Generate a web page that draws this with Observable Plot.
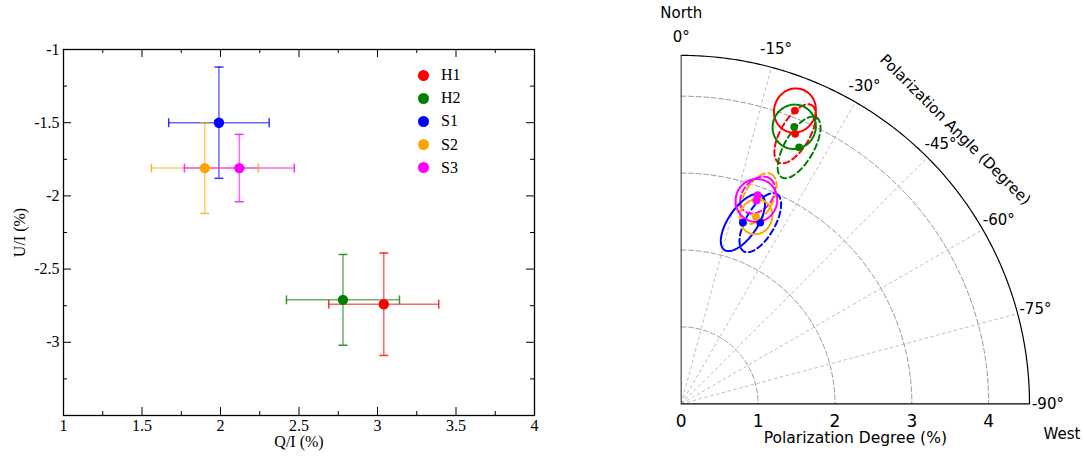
<!DOCTYPE html>
<html>
<head>
<meta charset="utf-8">
<script src="https://cdn.jsdelivr.net/npm/d3@7"></script>
<script src="https://cdn.jsdelivr.net/npm/@observablehq/plot@0.6"></script>
<style>
  html, body { margin: 0; padding: 0; background: #fff; }
  body { width: 1084px; height: 460px; position: relative; overflow: hidden; }
  #left { position: absolute; left: 0; top: 0; }
  #right { position: absolute; left: 560px; top: 0; }
  #legend { position: absolute; left: 0; top: 0; }
  .lg { position: absolute; height: 20px; display: flex; align-items: center;
        font: 16px "Liberation Serif", "Times New Roman", serif; color: #000; }
  .lg span { display: inline-block; width: 11px; height: 11px; border-radius: 50%; margin-right: 12px; }
</style>
</head>
<body>
<div id="left"></div>
<div id="right"></div>
<div id="legend"></div>
<script>
// ---------------- data: left panel (Stokes Q/I vs U/I) ----------------
const series   = ["H1", "H2", "S1", "S2", "S3"];
const colors   = ["#ff0000", "#008000", "#0000ff", "#ffa500", "#ff00ff"];
const qValues  = [3.04, 2.78, 1.99, 1.90, 2.12];
const qErrors  = [0.35, 0.36, 0.32, 0.34, 0.35];
const uValues  = [-2.74, -2.71, -1.50, -1.81, -1.81];
const uErrors  = [0.35, 0.31, 0.38, 0.31, 0.23];
const xTicks      = [1, 1.5, 2, 2.5, 3, 3.5, 4];
const xMinorTicks = [1.25, 1.75, 2.25, 2.75, 3.25, 3.75];
const yTicks      = [-1, -1.5, -2, -2.5, -3, -3.5];
const yLabelTicks = [-1, -1.5, -2, -2.5, -3];
const yMinorTicks = [-1.25, -1.75, -2.25, -2.75, -3.25];

// ---------------- data: right panel (polarization degree / angle) ----------------
const solidDegree    = [4.09, 3.89, 2.49, 2.62, 2.82];
const solidAngle     = [-21.2, -22.2, -18.8, -21.8, -20.3];
const solidSemiMajor = [0.29, 0.29, 0.43, 0.23, 0.28];
const solidSemiMinor = [0.27, 0.28, 0.19, 0.21, 0.27];
const solidTilt      = [-21, -22, -34, -22, -20];
const dashedDegree    = [3.81, 3.67, 2.57, 2.85, 2.89];
const dashedAngle     = [-22.9, -24.7, -23.6, -20.6, -20.1];
const dashedSemiMajor = [0.43, 0.45, 0.43, 0.36, 0.27];
const dashedSemiMinor = [0.19, 0.19, 0.19, 0.19, 0.19];
const dashedTilt      = [-30, -30, -30, -28, -40];
const degreeTicks = [0, 1, 2, 3, 4];
const gridRadii   = [1, 2, 3, 4];
const angleTicks  = [0, -15, -30, -45, -60, -75, -90];
const gridAngles  = [-15, -30, -45, -60, -75];
const degreeMax   = 4.53;

// ---------------- left panel ----------------
const rows = series.map((s, i) => ({
  name: s, color: colors[i], q: qValues[i], qe: qErrors[i], u: uValues[i], ue: uErrors[i]
}));
const LW = 560, LH = 460, LML = 63, LMR = 26, LMT = 49, LMB = 45;
const FH = LH - LMT - LMB, FW = LW - LML - LMR;
const hCap = { draw(c, size) { const w = Math.sqrt(size / Math.PI); c.moveTo(-w, 0); c.lineTo(w, 0); } };
const vCap = { draw(c, size) { const w = Math.sqrt(size / Math.PI); c.moveTo(0, -w); c.lineTo(0, w); } };
const serif = "'Liberation Serif', 'Times New Roman', serif";

const leftPlot = Plot.plot({
  width: LW, height: LH,
  marginLeft: LML, marginRight: LMR, marginTop: LMT, marginBottom: LMB,
  style: { fontFamily: serif, fontSize: "16px", background: "transparent", color: "#000", overflow: "visible" },
  x: { domain: [1, 4] },
  y: { domain: [-3.5, -1] },
  color: { type: "identity" },
  marks: [
    Plot.axisX({ ticks: xTicks, tickSize: 0, tickPadding: 4, tickFormat: d => String(d), label: null, fontSize: 16 }),
    Plot.axisY({ ticks: yLabelTicks, tickSize: 0, tickPadding: 4, tickFormat: d => String(d), label: null, fontSize: 16 }),
    // inward ticks on all four sides
    Plot.tickX(xTicks, { x: d => d, insetTop: FH - 8, stroke: "#000" }),
    Plot.tickX(xTicks, { x: d => d, insetBottom: FH - 8, stroke: "#000" }),
    Plot.tickX(xMinorTicks, { x: d => d, insetTop: FH - 4, stroke: "#000" }),
    Plot.tickX(xMinorTicks, { x: d => d, insetBottom: FH - 4, stroke: "#000" }),
    Plot.tickY(yTicks, { y: d => d, insetRight: FW - 8, stroke: "#000" }),
    Plot.tickY(yTicks, { y: d => d, insetLeft: FW - 8, stroke: "#000" }),
    Plot.tickY(yMinorTicks, { y: d => d, insetRight: FW - 4, stroke: "#000" }),
    Plot.tickY(yMinorTicks, { y: d => d, insetLeft: FW - 4, stroke: "#000" }),
    Plot.frame({ stroke: "#000", strokeWidth: 1.3 }),
    // error bars
    Plot.ruleX(rows, { x: "q", y1: d => d.u - d.ue, y2: d => d.u + d.ue, stroke: "color", strokeWidth: 1.5, strokeOpacity: 0.6 }),
    Plot.ruleY(rows, { y: "u", x1: d => d.q - d.qe, x2: d => d.q + d.qe, stroke: "color", strokeWidth: 1.5, strokeOpacity: 0.6 }),
    Plot.dot(rows, { x: "q", y: d => d.u - d.ue, symbol: hCap, r: 4.5, fill: "none", stroke: "color", strokeWidth: 1.5, strokeOpacity: 0.8 }),
    Plot.dot(rows, { x: "q", y: d => d.u + d.ue, symbol: hCap, r: 4.5, fill: "none", stroke: "color", strokeWidth: 1.5, strokeOpacity: 0.8 }),
    Plot.dot(rows, { x: d => d.q - d.qe, y: "u", symbol: vCap, r: 4.5, fill: "none", stroke: "color", strokeWidth: 1.5, strokeOpacity: 0.8 }),
    Plot.dot(rows, { x: d => d.q + d.qe, y: "u", symbol: vCap, r: 4.5, fill: "none", stroke: "color", strokeWidth: 1.5, strokeOpacity: 0.8 }),
    // points
    Plot.dot(rows, { x: "q", y: "u", r: 5.2, fill: "color", stroke: "none" }),
    // axis titles
    Plot.text(["Q/I (%)"], { frameAnchor: "bottom", dy: 26.5, lineAnchor: "middle", textAnchor: "middle", text: d => d, fontSize: 16 }),
    Plot.text(["U/I (%)"], { frameAnchor: "left", dx: -44, rotate: -90, lineAnchor: "middle", textAnchor: "middle", text: d => d, fontSize: 16 })
  ]
});
document.getElementById("left").appendChild(leftPlot);

// legend
const legendDiv = document.getElementById("legend");
series.forEach((s, i) => {
  const row = document.createElement("div");
  row.className = "lg";
  row.style.left = "418px";
  row.style.top = (65 + i * 23.2) + "px";
  row.innerHTML = `<span style="background:${colors[i]}"></span>${s}`;
  legendDiv.appendChild(row);
});

// ---------------- right panel ----------------
const rad = d => d * Math.PI / 180;
const toXY = (p, ang) => ({ x: p * Math.sin(rad(-ang)), y: p * Math.cos(rad(-ang)) });

function ellipsePoints(kind, degree, angle, semiMajor, semiMinor, tilt) {
  const pts = [];
  series.forEach((s, i) => {
    const c = toXY(degree[i], angle[i]);
    const phi = rad(-tilt[i]);
    const ux = Math.sin(phi), uy = Math.cos(phi);
    const vx = Math.cos(phi), vy = -Math.sin(phi);
    for (let k = 0; k <= 96; k++) {
      const t = 2 * Math.PI * k / 96;
      const a = semiMajor[i] * Math.cos(t), b = semiMinor[i] * Math.sin(t);
      pts.push({ id: kind + s, color: colors[i], x: c.x + a * ux + b * vx, y: c.y + a * uy + b * vy });
    }
  });
  return pts;
}
const solidEll = ellipsePoints("s", solidDegree, solidAngle, solidSemiMajor, solidSemiMinor, solidTilt);
const dashedEll = ellipsePoints("d", dashedDegree, dashedAngle, dashedSemiMajor, dashedSemiMinor, dashedTilt);

const arcPts = [];
gridRadii.forEach(r => { for (let a = 0; a <= 90; a += 1) arcPts.push({ r, ...toXY(r, -a) }); });
const outerArc = [];
for (let a = 0; a <= 90; a += 0.5) outerArc.push(toXY(degreeMax, -a));

const centers = [];
series.forEach((s, i) => {
  centers.push({ color: colors[i], ...toXY(solidDegree[i], solidAngle[i]) });
  centers.push({ color: colors[i], ...toXY(dashedDegree[i], dashedAngle[i]) });
});

const RW = 524, RH = 460;
const sans = "'DejaVu Sans', sans-serif";
const labelR = 4.77;
const rightPlot = Plot.plot({
  width: RW, height: RH,
  marginLeft: 120.7, marginRight: 55, marginTop: 54.9, marginBottom: 56.7,
  style: { fontFamily: sans, fontSize: "15px", background: "transparent", color: "#000", overflow: "visible" },
  x: { domain: [0, degreeMax], axis: null },
  y: { domain: [0, degreeMax], axis: null },
  color: { type: "identity" },
  marks: [
    Plot.line(arcPts, { x: "x", y: "y", z: "r", stroke: "#9a9a9a", strokeWidth: 1, strokeDasharray: "5,2.5" }),
    Plot.link(gridAngles, {
      x1: () => 0, y1: () => 0,
      x2: d => toXY(degreeMax, d).x, y2: d => toXY(degreeMax, d).y,
      stroke: "#b8b8b8", strokeWidth: 0.9, strokeDasharray: "3.5,2.5"
    }),
    Plot.line(outerArc, { x: "x", y: "y", stroke: "#000", strokeWidth: 1.2 }),
    Plot.ruleY([0], { x1: 0, x2: degreeMax, stroke: "#000", strokeWidth: 1.3 }),
    Plot.ruleX([0], { y1: 0, y2: degreeMax, stroke: "#555", strokeWidth: 1.3 }),
    // ellipses
    Plot.line(dashedEll, { x: "x", y: "y", z: "id", stroke: "color", strokeWidth: 2, strokeDasharray: "6,3.5" }),
    Plot.line(solidEll, { x: "x", y: "y", z: "id", stroke: "color", strokeWidth: 2 }),
    Plot.dot(centers, { x: "x", y: "y", r: 3.9, fill: "color", stroke: "none" }),
    // tick labels
    Plot.text(degreeTicks, { x: d => d, y: () => 0, dy: 17.5, lineAnchor: "middle", text: d => String(d), fontSize: 17 }),
    Plot.text(angleTicks, {
      x: d => toXY(labelR, d).x, y: d => toXY(labelR, d).y,
      lineAnchor: "middle", text: d => `${d}°`, fontSize: 15
    }),
    Plot.text(["Polarization Angle (Degree)"], {
      x: () => toXY(5.04, -45).x, y: () => toXY(5.04, -45).y,
      lineAnchor: "middle", text: d => d, rotate: 45, fontSize: 15
    }),
    Plot.text(["Polarization Degree (%)"], { frameAnchor: "bottom", dy: 34.5, lineAnchor: "middle", textAnchor: "middle", text: d => d, fontSize: 15.5 }),
    Plot.text(["North"], { frameAnchor: "top-left", dy: -42.5, lineAnchor: "middle", textAnchor: "middle", text: d => d, fontSize: 15 }),
    Plot.text(["West"], { frameAnchor: "bottom-right", dx: 32.5, dy: 30, lineAnchor: "middle", textAnchor: "middle", text: d => d, fontSize: 15 })
  ]
});
document.getElementById("right").appendChild(rightPlot);
</script>
</body>
</html>
